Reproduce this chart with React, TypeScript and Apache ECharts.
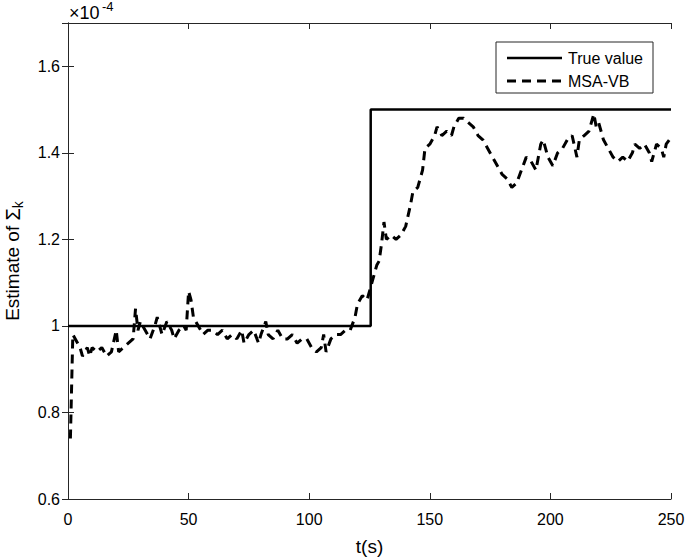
import React, { useEffect, useRef } from "react";
import * as echarts from "echarts";

const trueT = [0, 125.5, 125.5, 250];
const trueV = [1.0, 1.0, 1.5, 1.5];

const msaT = [
  1, 2, 4, 5, 6, 8, 9, 10, 12, 14, 16, 18, 20, 21, 23, 25, 27, 28, 29, 30,
  32, 34, 36, 37, 39, 41, 43, 44, 46, 48, 49, 50, 51, 52, 54, 56, 58, 60, 62, 64,
  66, 68, 70, 72, 73, 75, 77, 79, 80, 82, 83, 85, 87, 89, 91, 93, 95, 97, 99, 101,
  103, 105, 106, 107, 109, 111, 113, 115, 117, 119, 120, 122, 124, 126, 127, 128, 129, 130, 131, 132,
  134, 136, 138, 140, 142, 143, 145, 147, 148, 150, 152, 153, 155, 157, 159, 160, 162, 164, 166, 168,
  170, 172, 174, 176, 178, 180, 182, 184, 186, 188, 190, 192, 194, 196, 197, 199, 201, 203, 205, 207,
  209, 211, 212, 214, 216, 218, 219, 220, 222, 224, 226, 228, 230, 232, 234, 235, 237, 239, 241, 242,
  244, 246, 247, 248, 250,
];
const msaV = [
  0.74, 0.98, 0.96, 0.95, 0.93, 0.95, 0.93, 0.95, 0.94, 0.95, 0.93, 0.94, 0.99, 0.94, 0.95, 0.96, 0.97, 1.04, 0.99, 1.01,
  0.99, 0.97, 1.0, 1.02, 0.98, 1.01, 0.99, 0.97, 0.99, 1.0, 0.99, 1.08, 1.06, 1.02, 1.0, 0.98, 0.99, 0.99, 0.98, 0.99,
  0.97, 0.98, 0.97, 0.99, 0.96, 0.98, 0.99, 0.96, 0.98, 1.01, 0.98, 0.97, 0.99, 0.97, 0.97, 0.98, 0.96, 0.97, 0.97, 0.95,
  0.94, 0.95, 0.98, 0.94, 0.97, 0.98, 0.98, 0.99, 0.99, 1.02, 1.05, 1.07, 1.06, 1.1, 1.12, 1.14, 1.15, 1.19, 1.24, 1.2,
  1.21, 1.2, 1.21, 1.23, 1.28, 1.31, 1.32, 1.36, 1.41, 1.42, 1.44, 1.46, 1.44, 1.45, 1.44, 1.46, 1.48, 1.48, 1.47, 1.46,
  1.44, 1.43, 1.41, 1.39, 1.37, 1.35, 1.34, 1.32, 1.33, 1.36, 1.39, 1.38, 1.36, 1.42, 1.43, 1.39, 1.37, 1.4, 1.41, 1.43,
  1.44, 1.39, 1.43, 1.44, 1.45, 1.49, 1.46, 1.47, 1.43, 1.41, 1.39, 1.38, 1.39, 1.38, 1.4, 1.42, 1.41, 1.42, 1.4, 1.38,
  1.42, 1.41, 1.39, 1.42, 1.435,
];

const legendNames = ["True value", "MSA-VB"];

const xTicks = { min: 0, max: 250, interval: 50 };
const yTicks = { min: 0.6, max: 1.7, interval: 0.2 };

const FONT = "Liberation Sans, Arial, sans-serif";
const AXIS = "#262626";

export default function App() {
  const ref = useRef<HTMLDivElement>(null);
  useEffect(() => {
    const chart = echarts.init(ref.current!, null, { renderer: "svg" });
    const trueData = trueT.map((t, i) => [t, trueV[i]]);
    const msaData = msaT.map((t, i) => [t, msaV[i]]);
    const axisLine = { show: true, lineStyle: { color: AXIS, width: 1 } };
    const tick = { show: true, inside: true, length: 6, lineStyle: { color: AXIS } };
    chart.setOption({
      animation: false,
      textStyle: { fontFamily: FONT },
      grid: { left: 68, right: 14, top: 23, bottom: 60, containLabel: false, outerBoundsMode: "none" },
      xAxis: [
        {
          type: "value",
          ...xTicks,
          position: "bottom",
          axisLine,
          axisTick: tick,
          splitLine: { show: false },
          axisLabel: { color: "#000", fontSize: 16, margin: 12, fontFamily: FONT },
          name: "t(s)",
          nameLocation: "middle",
          nameGap: 38,
          nameTextStyle: { fontSize: 19, color: "#000", fontFamily: FONT },
        },
        {
          type: "value",
          ...xTicks,
          position: "top",
          axisLine,
          axisTick: tick,
          splitLine: { show: false },
          axisLabel: { show: false },
        },
      ],
      yAxis: [
        {
          type: "value",
          ...yTicks,
          position: "left",
          axisLine,
          axisTick: tick,
          splitLine: { show: false },
          axisLabel: {
            color: "#000",
            fontSize: 16,
            margin: 8,
            fontFamily: FONT,
            formatter: (v: number) => {
              if (v > 1.65) return "";
              const r = Math.round(v * 10) / 10;
              return r === 1 ? "1" : r.toFixed(1);
            },
          },
          name: "Estimate of {s|Σ}{sub|k}",
          nameLocation: "middle",
          nameGap: 43,
          nameTextStyle: {
            fontSize: 19,
            color: "#000",
            fontFamily: FONT,
            rich: {
              s: { fontSize: 20, color: "#000", fontFamily: FONT },
              sub: { fontSize: 14, color: "#000", fontFamily: FONT, padding: [11, 0, 0, 0] },
            },
          },
        },
        {
          type: "value",
          ...yTicks,
          position: "right",
          axisLine,
          axisTick: tick,
          splitLine: { show: false },
          axisLabel: { show: false },
        },
      ],
      graphic: [
        {
          type: "text",
          x: 69,
          y: 4,
          style: { text: "×10", font: "18px 'Liberation Sans', Arial, sans-serif", fill: "#000" },
        },
        {
          type: "text",
          x: 102,
          y: 0,
          style: { text: "-4", font: "13px 'Liberation Sans', Arial, sans-serif", fill: "#000" },
        },
        {
          type: "group",
          x: 496,
          y: 42,
          children: [
            {
              type: "rect",
              shape: { x: 0, y: 0, width: 157, height: 51 },
              style: { fill: "#fff", stroke: AXIS, lineWidth: 1 },
            },
            {
              type: "line",
              shape: { x1: 11, y1: 16, x2: 66, y2: 16 },
              style: { stroke: "#000", lineWidth: 2.5 },
            },
            {
              type: "line",
              shape: { x1: 11, y1: 39, x2: 66, y2: 39 },
              style: { stroke: "#000", lineWidth: 3, lineDash: [9, 6] },
            },
            {
              type: "text",
              x: 72,
              y: 16,
              style: { text: legendNames[0], font: "16px 'Liberation Sans', Arial, sans-serif", fill: "#000", verticalAlign: "middle" },
            },
            {
              type: "text",
              x: 72,
              y: 39,
              style: { text: legendNames[1], font: "16px 'Liberation Sans', Arial, sans-serif", fill: "#000", verticalAlign: "middle" },
            },
          ],
        },
      ],
      series: [
        {
          name: legendNames[0],
          type: "line",
          data: trueData,
          showSymbol: false,
          symbol: "none",
          lineStyle: { color: "#000", width: 2.5 },
          z: 3,
        },
        {
          name: legendNames[1],
          type: "line",
          data: msaData,
          showSymbol: false,
          symbol: "none",
          lineStyle: { color: "#000", width: 3, type: [9, 6] },
          z: 2,
        },
      ],
    });
    return () => chart.dispose();
  }, []);
  return <div ref={ref} style={{ width: 685, height: 559, position: "absolute", left: 0, top: 0 }} />;
}
